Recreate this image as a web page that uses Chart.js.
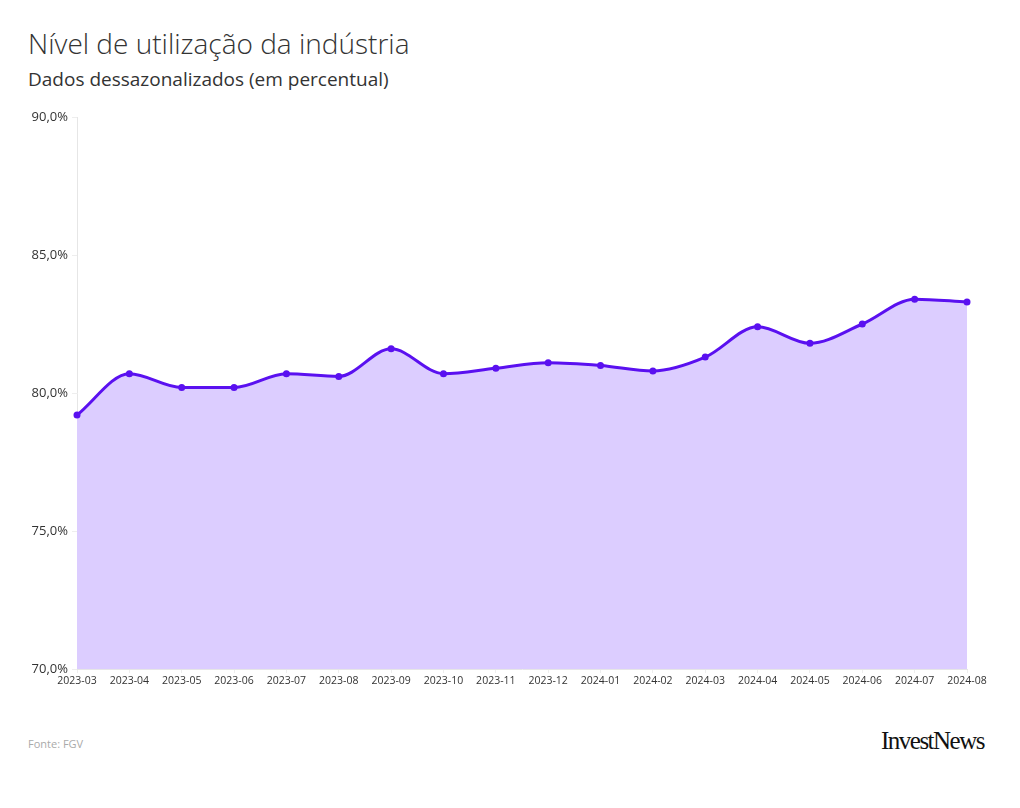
<!DOCTYPE html>
<html>
<head>
<meta charset="utf-8">
<script src="https://cdn.jsdelivr.net/npm/chart.js@4.4.0/dist/chart.umd.min.js"></script>
<style>
  body { margin: 0; background: #fff; width: 1020px; height: 808px; position: relative; font-family: "Open Sans", sans-serif; }
  #title { position: absolute; left: 28px; top: 24px; font-size: 28px; font-weight: 300; color: #333; }
  #subtitle { position: absolute; left: 28px; top: 66px; font-size: 19px; color: #333; }
  #wrap { position: absolute; left: 20px; top: 105px; width: 970px; height: 589px; }
  #source { position: absolute; left: 28px; top: 736px; font-size: 11px; color: #aaa; }
  #logo { position: absolute; right: 36px; top: 727px; font-family: "Liberation Serif", serif; font-size: 25px; letter-spacing: -1.5px; color: #111; }
</style>
</head>
<body>
<div id="title">Nível de utilização da indústria</div>
<div id="subtitle">Dados dessazonalizados (em percentual)</div>
<div id="wrap"><canvas id="myChart"></canvas></div>
<div id="source">Fonte: FGV</div>
<div id="logo">InvestNews</div>
<script>
const months = ["2023-03", "2023-04", "2023-05", "2023-06", "2023-07", "2023-08", "2023-09", "2023-10", "2023-11", "2023-12",
    "2024-01", "2024-02", "2024-03", "2024-04", "2024-05", "2024-06", "2024-07", "2024-08"];
const utilizacao = [79.2, 80.7, 80.2, 80.2, 80.7, 80.6, 81.6, 80.7, 80.9, 81.1,
    81.0, 80.8, 81.3, 82.4, 81.8, 82.5, 83.4, 83.3];
const yTicks = [70, 75, 80, 85, 90];

const ctx = document.getElementById('myChart');
new Chart(ctx, {
    type: 'line',
    data: {
        labels: months,
        datasets: [{
            data: utilizacao,
            borderColor: '#5a10f0',
            backgroundColor: 'rgb(220, 205, 255)',
            borderWidth: 3,
            fill: 'start',
            cubicInterpolationMode: 'monotone',
            pointRadius: 3.5,
            pointBackgroundColor: '#5a10f0',
            pointBorderWidth: 0
        }]
    },
    options: {
        responsive: true,
        maintainAspectRatio: false,
        animation: false,
        layout: { padding: { top: 12, right: 23, bottom: 0, left: 0 } },
        plugins: { legend: { display: false }, tooltip: { enabled: false } },
        scales: {
            x: {
                grid: { drawOnChartArea: false, tickLength: 4, color: '#eeeeee' },
                border: { color: '#e6e6e6' },
                ticks: { color: '#333', font: { family: 'Open Sans', size: 10.5 }, maxRotation: 0, autoSkip: false, padding: 2 },
                afterFit: function(scale) { scale.height = 25; }
            },
            y: {
                min: yTicks[0],
                max: yTicks[yTicks.length - 1],
                grid: { drawOnChartArea: false, tickLength: 5, color: '#eeeeee' },
                border: { color: '#e6e6e6' },
                afterBuildTicks: function(scale) { scale.ticks = yTicks.map(v => ({ value: v })); },
                ticks: {
                    color: '#333',
                    font: { family: 'Open Sans', size: 13 },
                    padding: 4,
                    callback: function(value) { return value.toFixed(1).replace('.', ',') + '%'; }
                },
                afterFit: function(scale) { scale.width = 57; }
            }
        }
    }
});
</script>
</body>
</html>
